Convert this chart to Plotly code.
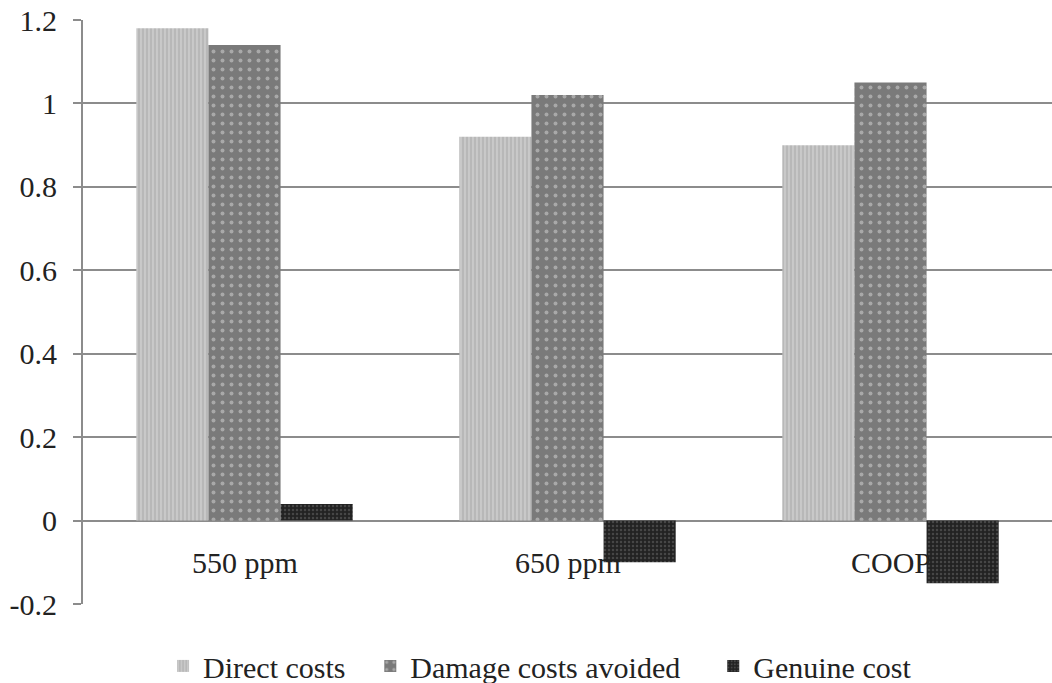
import plotly.graph_objects as go

categories = ["550 ppm", "650 ppm", "COOP"]
direct_costs = [1.18, 0.92, 0.90]
damage_avoided = [1.14, 1.02, 1.05]
genuine_cost = [0.04, -0.10, -0.15]
y_ticks = [-0.2, 0, 0.2, 0.4, 0.6, 0.8, 1, 1.2]
y_ticklabels = ["-0.2", "0", "0.2", "0.4", "0.6", "0.8", "1", "1.2"]

font_family = "Liberation Serif, Times New Roman, serif"
FS = 30

fig = go.Figure()
fig.add_trace(go.Bar(
    name="Direct costs", x=categories, y=direct_costs, legend="legend",
    marker=dict(color="#c4c4c4", line=dict(width=0),
                pattern=dict(shape="|", fgcolor="#e2e2e2", bgcolor="#b8b8b8", size=4, solidity=0.4)),
))
fig.add_trace(go.Bar(
    name="Damage costs avoided", x=categories, y=damage_avoided, legend="legend2",
    marker=dict(color="#7a7a7a", line=dict(width=0),
                pattern=dict(shape=".", fgcolor="#d8d8d8", bgcolor="#7a7a7a", size=9, solidity=0.15)),
))
fig.add_trace(go.Bar(
    name="Genuine cost", x=categories, y=genuine_cost, legend="legend3",
    marker=dict(color="#2a2a2a", line=dict(width=0),
                pattern=dict(shape=".", fgcolor="#6a6a6a", bgcolor="#222222", size=4, solidity=0.3)),
))

for c in categories:
    fig.add_annotation(x=c, y=-0.1, xref="x", yref="y", text=c, showarrow=False,
                       font=dict(family=font_family, size=FS, color="#222222"))

def leg(xpos):
    return dict(orientation="h", x=xpos, xanchor="left", y=0.025, yanchor="middle",
                xref="container", yref="container",
                font=dict(family=font_family, size=FS, color="#222222"),
                itemwidth=30, bgcolor="rgba(0,0,0,0)")

fig.update_layout(
    width=1052, height=683,
    margin=dict(l=83, r=0, t=20, b=79, autoexpand=False),
    paper_bgcolor="white", plot_bgcolor="white",
    barmode="group", bargap=0.33, bargroupgap=0,
    font=dict(family=font_family, size=FS, color="#222222"),
    showlegend=True,
    legend=leg(0.155), legend2=leg(0.352), legend3=leg(0.678),
    xaxis=dict(showticklabels=False, showgrid=False, zeroline=False, showline=False, ticks="",
               automargin=False),
    yaxis=dict(range=[-0.2, 1.2], tickvals=y_ticks, ticktext=y_ticklabels,
               showgrid=True, gridcolor="#8c8c8c", gridwidth=2,
               zeroline=True, zerolinecolor="#8c8c8c", zerolinewidth=2,
               showline=True, linecolor="#8c8c8c", linewidth=2,
               ticks="outside", ticklen=8, tickcolor="#8c8c8c", tickwidth=2,
               ticklabelstandoff=10, automargin=False,
               tickfont=dict(family=font_family, size=FS, color="#222222")),
)

fig.write_html("out.html", config={"displayModeBar": False},
               post_script="document.body.style.margin='0px';document.body.style.overflow='hidden';")
